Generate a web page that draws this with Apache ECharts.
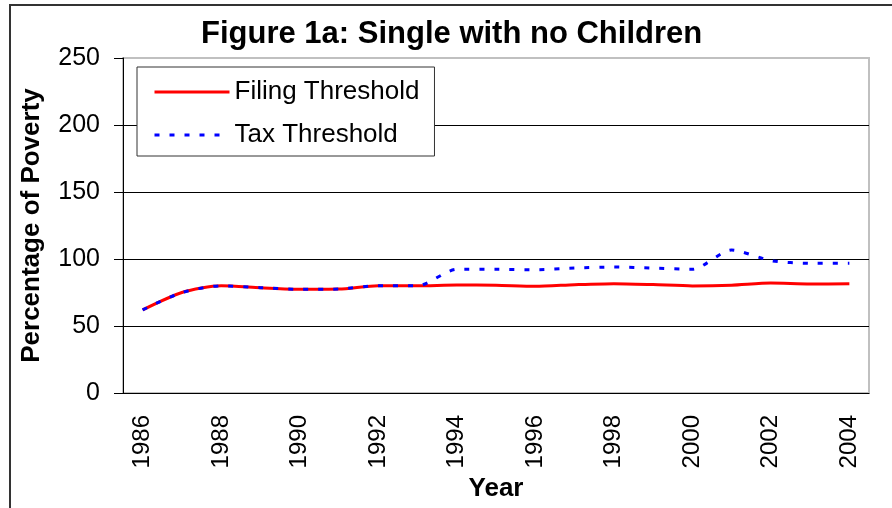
<!DOCTYPE html>
<html>
<head>
  <meta charset="utf-8">
  <title>Figure 1a</title>
  <script src="https://cdn.jsdelivr.net/npm/echarts@6/dist/echarts.min.js"></script>
</head>
<style>
  html,
  body {
    margin: 0;
    padding: 0;
    background: #fff;
  }
</style>
<body>
  <div id="chart" style="width: 892px; height: 508px;"></div>
  <script>
    // 数据
    const years = ['1986', '1987', '1988', '1989', '1990', '1991', '1992', '1993', '1994', '1995',
      '1996', '1997', '1998', '1999', '2000', '2001', '2002', '2003', '2004'];
    const filingThreshold = [62, 75, 80, 78.6, 77.4, 77.6, 80.1, 80, 80.6, 80.4,
      79.6, 80.8, 81.6, 80.9, 79.9, 80.4, 82, 81.3, 81.6];
    const taxThreshold = [62, 75, 80, 78.6, 77.4, 77.6, 80.1, 80, 92.3, 92.3,
      92, 93.2, 94, 93.2, 92.3, 106.7, 98.8, 96.8, 96.9];
    const yTicks = { min: 0, max: 250, interval: 50 };

    const font = '"Liberation Sans", Arial, sans-serif';
    const chart = echarts.init(document.getElementById('chart'));
    const option = {
      backgroundColor: '#fff',
      animation: false,
      title: {
        text: 'Figure 1a: Single with no Children',
        left: 196,
        top: 14,
        textStyle: { fontFamily: font, fontSize: 31, fontWeight: 'bold', color: '#000' }
      },
      legend: {
        orient: 'vertical',
        left: 137,
        top: 67,
        padding: [12, 15, 8, 16],
        itemWidth: 75,
        itemHeight: 14,
        itemGap: 17,
        backgroundColor: '#fff',
        borderColor: '#333',
        borderWidth: 1,
        itemStyle: { opacity: 0 },
        lineStyle: { width: 3 },
        textStyle: { fontFamily: font, fontSize: 26, color: '#000' },
        data: ['Filing Threshold', 'Tax Threshold']
      },
      grid: {
        left: 123,
        right: 23,
        top: 58,
        bottom: 115,
        outerBoundsMode: 'none',
        show: true,
        borderColor: '#c0c0c0',
        borderWidth: 2
      },
      xAxis: {
        type: 'category',
        data: years,
        name: 'Year',
        nameLocation: 'middle',
        nameGap: 83,
        nameTextStyle: { fontFamily: font, fontSize: 26, fontWeight: 'bold', color: '#000' },
        axisLine: { lineStyle: { color: '#000', width: 1 } },
        axisTick: { interval: 0, length: 8, lineStyle: { color: '#000' } },
        axisLabel: {
          interval: 1,
          rotate: 90,
          margin: 22,
          fontFamily: font,
          fontSize: 24,
          color: '#000'
        }
      },
      yAxis: {
        type: 'value',
        min: yTicks.min,
        max: yTicks.max,
        interval: yTicks.interval,
        name: 'Percentage of Poverty',
        nameLocation: 'middle',
        nameRotate: 90,
        nameGap: 78,
        nameTextStyle: { fontFamily: font, fontSize: 26, fontWeight: 'bold', color: '#000' },
        axisLine: { show: true, lineStyle: { color: '#000', width: 1 } },
        axisTick: { show: true, length: 9, lineStyle: { color: '#000' } },
        axisLabel: { margin: 23, fontFamily: font, fontSize: 25, color: '#000' },
        splitLine: {
          lineStyle: { color: ['#000', '#000', '#000', '#000', '#000', '#c0c0c0'], width: 1 }
        }
      },
      series: [
        {
          name: 'Filing Threshold',
          type: 'line',
          data: filingThreshold,
          smooth: 0.25,
          symbol: 'none',
          lineStyle: { color: '#ff0000', width: 3 },
          itemStyle: { color: '#ff0000' }
        },
        {
          name: 'Tax Threshold',
          type: 'line',
          data: taxThreshold,
          smooth: 0.25,
          symbol: 'none',
          lineStyle: { color: '#0000ff', width: 3, type: [5, 10] },
          itemStyle: { color: '#0000ff' }
        }
      ],
      graphic: [{
        type: 'rect',
        silent: true,
        shape: { x: 10, y: 5, width: 900, height: 520 },
        style: { fill: 'none', stroke: '#333', lineWidth: 2 }
      }]
    };
    chart.setOption(option);
  </script>
</body>
</html>
